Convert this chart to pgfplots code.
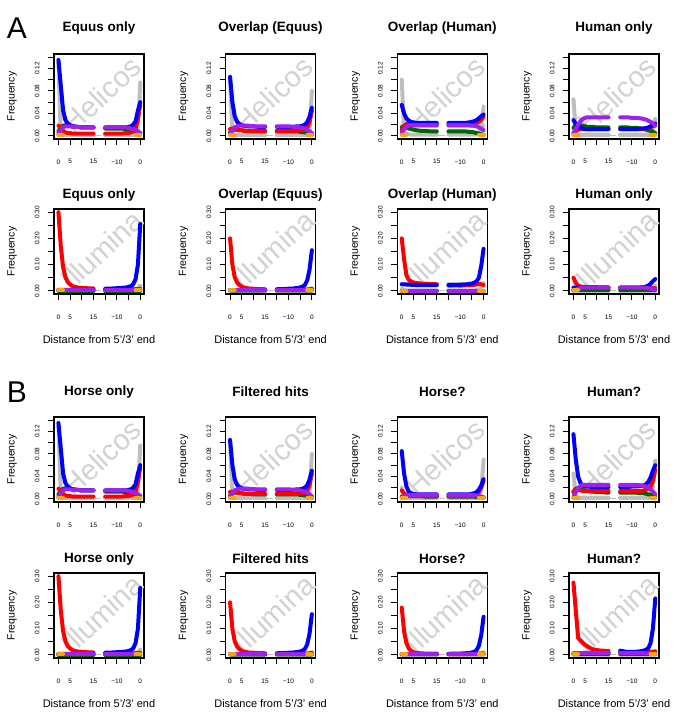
\documentclass[border=0pt]{standalone}
\usepackage{fontspec}
\setmainfont{Liberation Sans}
\usepackage{pgfplots}
\usepackage{pgfplotstable}
\pgfplotsset{compat=1.18}
\definecolor{Rblue}{RGB}{0,0,255}
\definecolor{Rred}{RGB}{255,0,0}
\definecolor{Rgreen}{RGB}{0,100,0}
\definecolor{Rpurple}{RGB}{160,32,240}
\definecolor{Rorange}{RGB}{255,165,0}
\definecolor{Rgrey}{RGB}{190,190,190}
\definecolor{wmcol}{RGB}{210,210,210}

% columns: u blue red green purple grey grey2 orange
\pgfplotstableread{
u b r g p k h o
0 .135 .018 .008 .004 .130 .001 .002
1 .090 .016 .014 .010 .004 .001 .002
2 .045 .009 .018 .015 .002 .001 .002
3 .028 .006 .019 .017 .002 .001 nan
4 .022 .005 .019 .017 .002 .001 nan
5 .019 .005 .018 .017 .002 .001 nan
6 .017 .004 .017 .016 .002 .001 nan
8 .016 .004 .016 .016 .002 .001 nan
10 .015 .004 .015 .015 .002 .001 nan
12 .015 .004 .015 .015 .002 .001 nan
15 .015 .004 .015 .015 .002 .001 nan
17.5 nan nan nan nan nan nan nan
20 .015 .004 .013 .015 .002 .001 nan
23 .015 .004 .013 .015 .002 .001 nan
25 .015 .004 .013 .015 .002 .001 nan
27 .015 .004 .013 .015 .002 .001 nan
29 .015 .005 .012 .015 .002 .001 nan
30 .016 .005 .012 .014 .002 .001 nan
31 .017 .006 .011 .013 .002 .001 nan
32 .020 .008 .010 .012 .003 .001 nan
33 .026 .013 .009 .010 .004 .001 .002
34 .045 .030 .007 .008 .008 .001 .002
35 .060 .055 .005 .005 .095 .001 .002
}\HAa

\pgfplotstableread{
u b r g p k h o
0 .105 .012 .006 .003 .100 .001 .002
1 .060 .013 .010 .010 .004 .001 .002
2 .035 .012 .011 .015 .002 .001 .002
3 .025 .011 .011 .017 .002 .001 nan
4 .021 .010 .010 .018 .002 .001 nan
5 .019 .010 .010 .018 .002 .001 nan
6 .018 .009 .009 .018 .002 .001 nan
8 .017 .009 .009 .018 .002 .001 nan
10 .017 .009 .008 .017 .002 .001 nan
12 .016 .009 .008 .017 .002 .001 nan
15 .016 .009 .008 .017 .002 .001 nan
17.5 nan nan nan nan nan nan nan
20 .016 .009 .008 .017 .002 .001 nan
23 .016 .009 .008 .017 .002 .001 nan
25 .016 .009 .008 .017 .002 .001 nan
27 .016 .009 .008 .016 .002 .001 nan
29 .017 .009 .008 .016 .002 .001 nan
30 .017 .010 .007 .015 .002 .001 nan
31 .018 .010 .007 .014 .002 .001 nan
32 .020 .011 .006 .013 .003 .001 nan
33 .024 .014 .005 .011 .004 .001 .002
34 .034 .024 .004 .008 .008 .001 .002
35 .050 .045 .002 .005 .080 .001 .002
}\HAb

\pgfplotstableread{
u b r g p k h o
0 .055 .010 .015 .005 .100 .017 .002
1 .040 .018 .017 .012 .010 .017 .002
2 .031 .021 .015 .016 .004 .017 .002
3 .027 .021 .013 .018 .003 .017 nan
4 .025 .021 .012 .019 .002 .017 nan
5 .024 .020 .011 .019 .002 .017 nan
6 .023 .020 .010 .019 .002 .017 nan
8 .023 .020 .009 .019 .002 .017 nan
10 .023 .020 .009 .019 .002 .017 nan
12 .023 .020 .008 .019 .002 .017 nan
15 .023 .020 .008 .019 .002 .017 nan
17.5 nan nan nan nan nan nan nan
20 .023 .020 .008 .019 .002 .017 nan
23 .023 .020 .008 .019 .002 .017 nan
25 .023 .020 .008 .019 .002 .017 nan
27 .023 .020 .008 .019 .002 .017 nan
29 .024 .021 .007 .019 .002 .017 nan
30 .025 .021 .007 .018 .002 .017 nan
31 .026 .022 .006 .018 .002 .017 nan
32 .028 .023 .005 .017 .003 .017 nan
33 .031 .025 .004 .015 .006 .017 .002
34 .035 .029 .003 .013 .015 .017 .002
35 .038 .034 .002 .010 .052 .017 .002
}\HAc

\pgfplotstableread{
u b r g p k h o
0 .028 .005 .014 .004 .065 .001 .002
1 .021 .009 .019 .012 .008 .001 .002
2 .017 .011 .020 .020 .003 .001 .002
3 .014 .012 .019 .026 .002 .001 nan
4 .013 .012 .018 .030 .002 .001 nan
5 .012 .012 .017 .032 .002 .001 nan
6 .012 .012 .016 .033 .002 .001 nan
8 .012 .012 .016 .033 .002 .001 nan
10 .012 .012 .015 .033 .002 .001 nan
12 .012 .012 .015 .033 .002 .001 nan
15 .012 .012 .015 .033 .002 .001 nan
17.5 nan nan nan nan nan nan nan
20 .012 .012 .015 .033 .002 .001 nan
23 .012 .012 .015 .033 .002 .001 nan
25 .012 .012 .014 .032 .002 .001 nan
27 .012 .012 .014 .032 .002 .001 nan
29 .013 .012 .013 .031 .002 .001 nan
30 .013 .013 .012 .030 .002 .001 nan
31 .014 .013 .011 .029 .002 .001 nan
32 .015 .014 .010 .027 .003 .001 nan
33 .017 .015 .009 .025 .005 .001 .002
34 .019 .017 .007 .022 .010 .001 .002
35 .022 .020 .005 .018 .030 .001 .002
}\HAd

\pgfplotstableread{
u b r g p k h o
0 .085 .015 .004 .002 .020 .001 .002
1 .045 .010 .005 .005 .003 .001 .002
2 .022 .007 .005 .007 .002 .001 .002
3 .013 .006 .005 .007 .002 .001 nan
4 .010 .005 .005 .007 .002 .001 nan
5 .009 .005 .005 .007 .002 .001 nan
6 .008 .005 .005 .007 .002 .001 nan
8 .008 .005 .005 .007 .002 .001 nan
10 .008 .005 .004 .007 .002 .001 nan
12 .008 .005 .004 .007 .002 .001 nan
15 .008 .005 .004 .007 .002 .001 nan
17.5 nan nan nan nan nan nan nan
20 .008 .005 .004 .007 .002 .001 nan
23 .008 .005 .004 .007 .002 .001 nan
25 .008 .005 .004 .007 .002 .001 nan
27 .008 .005 .004 .007 .002 .001 nan
29 .008 .005 .004 .007 .002 .001 nan
30 .009 .005 .004 .007 .002 .001 nan
31 .010 .006 .004 .006 .002 .001 nan
32 .012 .008 .003 .006 .003 .001 nan
33 .016 .012 .003 .005 .006 .001 .002
34 .024 .020 .002 .004 .012 .001 .002
35 .035 .032 .002 .003 .070 .001 .002
}\HBc

\pgfplotstableread{
u b r g p k h o
0 .115 .013 .012 .003 .045 .001 .002
1 .070 .017 .018 .012 .006 .001 .002
2 .040 .016 .019 .019 .003 .001 .002
3 .028 .015 .018 .023 .002 .001 nan
4 .024 .014 .016 .025 .002 .001 nan
5 .022 .014 .015 .025 .002 .001 nan
6 .022 .014 .014 .025 .002 .001 nan
8 .021 .014 .013 .025 .002 .001 nan
10 .021 .014 .012 .025 .002 .001 nan
12 .021 .014 .012 .025 .002 .001 nan
15 .021 .014 .011 .025 .002 .001 nan
17.5 nan nan nan nan nan nan nan
20 .021 .014 .011 .025 .002 .001 nan
23 .021 .014 .011 .025 .002 .001 nan
25 .022 .014 .011 .025 .002 .001 nan
27 .022 .014 .011 .025 .002 .001 nan
29 .023 .014 .010 .024 .002 .001 nan
30 .024 .015 .010 .023 .002 .001 nan
31 .026 .016 .009 .022 .002 .001 nan
32 .030 .018 .008 .020 .003 .001 nan
33 .038 .022 .007 .017 .008 .001 .002
34 .050 .032 .005 .013 .020 .001 .002
35 .060 .052 .003 .008 .068 .001 .002
}\HBd

\pgfplotstableread{
u b r g p k h o
0 .004 .300 .001 .003 .004 .001 .003
1 .004 .170 .001 .003 .002 .001 .003
2 .004 .090 .001 .003 .002 .001 .003
3 .004 .052 .001 .003 .002 .001 nan
4 .004 .033 .001 .003 .002 .001 nan
5 .004 .024 .001 .003 .002 .001 nan
6 .004 .018 .001 .003 .002 .001 nan
8 .004 .013 .001 .003 .002 .001 nan
10 .004 .011 .001 .003 .002 .001 nan
12 .004 .010 .001 .003 .002 .001 nan
15 .004 .009 .001 .003 .002 .001 nan
17.5 nan nan nan nan nan nan nan
20 .008 .005 .001 .003 .002 .001 nan
23 .009 .005 .001 .003 .002 .001 nan
25 .010 .005 .001 .003 .002 .001 nan
27 .011 .005 .001 .003 .002 .001 nan
29 .013 .005 .001 .003 .002 .001 nan
30 .015 .005 .001 .003 .002 .001 nan
31 .018 .006 .001 .003 .002 .001 nan
32 .025 .006 .001 .003 .003 .001 nan
33 .045 .007 .001 .003 .004 .001 .003
34 .100 .007 .001 .003 .010 .001 .003
35 .255 .008 .001 .003 .020 .001 .003
}\IAa

\pgfplotstableread{
u b r g p k h o
0 .003 .200 .003 .003 .003 .001 .002
1 .003 .100 .002 .003 .002 .001 .002
2 .003 .052 .002 .003 .002 .001 .002
3 .003 .032 .002 .003 .002 .001 nan
4 .003 .022 .002 .003 .002 .001 nan
5 .003 .016 .002 .003 .002 .001 nan
6 .003 .012 .002 .003 .002 .001 nan
8 .003 .009 .002 .003 .002 .001 nan
10 .003 .008 .002 .003 .002 .001 nan
12 .003 .007 .002 .003 .002 .001 nan
15 .003 .006 .002 .003 .002 .001 nan
17.5 nan nan nan nan nan nan nan
20 .006 .004 .002 .003 .002 .001 nan
23 .007 .004 .002 .003 .002 .001 nan
25 .008 .004 .002 .003 .002 .001 nan
27 .009 .004 .002 .003 .002 .001 nan
29 .011 .004 .002 .003 .002 .001 nan
30 .013 .005 .002 .003 .002 .001 nan
31 .016 .005 .002 .003 .002 .001 nan
32 .022 .005 .002 .003 .003 .001 nan
33 .040 .006 .002 .003 .004 .001 .002
34 .080 .006 .002 .003 .006 .001 .002
35 .155 .008 .002 .003 .010 .001 .002
}\IAb

\pgfplotstableread{
u b r g p k h o
0 .025 .200 .001 .001 .008 .028 .001
1 .025 .120 .001 .001 .003 .028 .001
2 .024 .060 .001 .001 .002 .028 .001
3 .024 .042 .001 .001 .002 .028 nan
4 .023 .036 .001 .001 .002 .028 nan
5 .023 .032 .001 .001 .002 .028 nan
6 .023 .030 .001 .001 .002 .028 nan
8 .022 .028 .001 .001 .002 .028 nan
10 .022 .027 .001 .001 .002 .028 nan
12 .022 .026 .001 .001 .002 .028 nan
15 .022 .025 .001 .001 .002 .028 nan
17.5 nan nan nan nan nan nan nan
20 .022 .020 .001 .001 .002 .028 nan
23 .022 .021 .001 .001 .002 .028 nan
25 .023 .020 .001 .001 .002 .028 nan
27 .024 .021 .001 .001 .002 .028 nan
29 .026 .021 .001 .001 .002 .028 nan
30 .028 .022 .001 .001 .002 .028 nan
31 .031 .023 .001 .001 .002 .028 nan
32 .036 .024 .001 .001 .003 .028 nan
33 .050 .026 .001 .001 .005 .028 .001
34 .095 .025 .001 .001 .012 .028 .001
35 .160 .022 .001 .001 .030 .028 .001
}\IAc

\pgfplotstableread{
u b r g p k h o
0 .012 .050 .004 .003 .010 .001 .004
1 .012 .030 .004 .004 .003 .001 .004
2 .012 .020 .004 .008 .002 .001 .004
3 .012 .017 .004 .011 .002 .001 nan
4 .012 .015 .004 .012 .002 .001 nan
5 .012 .015 .004 .012 .002 .001 nan
6 .012 .014 .004 .012 .002 .001 nan
8 .012 .014 .004 .012 .002 .001 nan
10 .012 .014 .004 .012 .002 .001 nan
12 .012 .013 .004 .012 .002 .001 nan
15 .012 .013 .004 .012 .002 .001 nan
17.5 nan nan nan nan nan nan nan
20 .012 .012 .004 .012 .002 .001 nan
23 .012 .012 .004 .012 .002 .001 nan
25 .012 .012 .004 .012 .002 .001 nan
27 .012 .012 .004 .012 .002 .001 nan
29 .013 .012 .004 .012 .002 .001 nan
30 .014 .012 .004 .012 .002 .001 nan
31 .016 .012 .004 .011 .002 .001 nan
32 .020 .012 .004 .010 .003 .001 nan
33 .027 .011 .004 .008 .005 .001 nan
34 .037 .010 .004 .006 .010 .001 nan
35 .045 .010 .004 .005 .020 .001 nan
}\IAd

\pgfplotstableread{
u b r g p k h o
0 .003 .180 .002 .003 .003 .001 .002
1 .003 .090 .002 .003 .002 .001 .002
2 .003 .045 .002 .003 .002 .001 .002
3 .003 .025 .002 .003 .002 .001 nan
4 .003 .015 .002 .003 .002 .001 nan
5 .003 .010 .002 .003 .002 .001 nan
6 .003 .008 .002 .003 .002 .001 nan
8 .003 .006 .002 .003 .002 .001 nan
10 .003 .005 .002 .003 .002 .001 nan
12 .003 .005 .002 .003 .002 .001 nan
15 .003 .005 .002 .003 .002 .001 nan
17.5 nan nan nan nan nan nan nan
20 .004 .003 .002 .003 .002 .001 nan
23 .005 .003 .002 .003 .002 .001 nan
25 .005 .003 .002 .003 .002 .001 nan
27 .006 .003 .002 .003 .002 .001 nan
29 .007 .003 .002 .003 .002 .001 nan
30 .009 .004 .002 .003 .002 .001 nan
31 .012 .004 .002 .003 .002 .001 nan
32 .018 .004 .002 .003 .003 .001 nan
33 .035 .005 .002 .003 .004 .001 .002
34 .075 .005 .002 .003 .006 .001 .002
35 .145 .006 .002 .003 .010 .001 .002
}\IBc

\pgfplotstableread{
u b r g p k h o
0 .006 .275 .003 .003 .005 .001 .002
1 .006 .170 .003 .004 .002 .001 .002
2 .006 .065 .003 .006 .002 .001 .002
3 .006 .055 .003 .007 .002 .001 nan
4 .007 .046 .003 .007 .002 .001 nan
5 .008 .038 .003 .007 .002 .001 nan
6 .008 .032 .003 .007 .002 .001 nan
8 .008 .022 .003 .007 .002 .001 nan
10 .008 .018 .003 .007 .002 .001 nan
12 .008 .016 .003 .007 .002 .001 nan
15 .008 .015 .003 .007 .002 .001 nan
17.5 nan nan nan nan nan nan nan
20 .016 .010 .003 .007 .002 .001 nan
23 .011 .010 .003 .007 .002 .001 nan
25 .011 .010 .003 .007 .002 .001 nan
27 .012 .010 .003 .007 .002 .001 nan
29 .014 .010 .003 .007 .002 .001 nan
30 .016 .010 .003 .007 .002 .001 nan
31 .019 .011 .003 .006 .002 .001 nan
32 .025 .011 .003 .006 .003 .001 nan
33 .045 .012 .003 .005 .005 .001 .002
34 .100 .012 .003 .004 .008 .001 .002
35 .215 .013 .003 .004 .015 .001 .002
}\IBd

\tikzset{wmark/.style={rotate=43, text=wmcol, font=\fontsize{29}{29}\selectfont},
  ptitle/.style={anchor=center, font=\bfseries\fontsize{13.5}{14}\selectfont}}

\pgfplotsset{
  panel/.style={
    scale only axis, width=90pt, height=85pt,
    xmin=-1.9, xmax=36.6,
    xtick={0,5,10,15,20,25,30,35},
    xticklabels={0,5,,15,,−10,,0},
    xtick pos=bottom, ytick pos=left,
    tick align=outside, major tick length=6pt,
    every tick/.style={black, line width=0.9pt},
    axis line style={line width=1.5pt},
    tick label style={font=\fontsize{6.5}{6.5}\selectfont},
    yticklabel style={rotate=90, anchor=south},
    yticklabel shift=5pt,
    xticklabel style={yshift=-11pt},
    ylabel={Frequency},
    ylabel style={at={([xshift=-42pt]axis description cs:0,0.5)}, anchor=center, font=\fontsize{10.5}{11}\selectfont},
    xlabel style={at={([yshift=-46pt]axis description cs:0.5,0)}, anchor=center, font=\fontsize{11}{12}\selectfont},
    unbounded coords=jump,
    every axis plot/.append style={line width=4pt, line cap=round, line join=round, mark=none},
  },
  hel/.style={ymin=-0.0056, ymax=0.1456,
    ytick={0,0.02,0.04,0.06,0.08,0.10,0.12,0.14},
    yticklabels={0.00,,0.04,,0.08,,0.12,}},
  ill/.style={ymin=-0.012, ymax=0.312,
    ytick={0,0.05,0.10,0.15,0.20,0.25,0.30},
    yticklabels={0.00,,0.10,,0.20,,0.30},
    xlabel={Distance from 5'/3' end}},
}

% #1 left, #2 top, #3 title, #4 table, #5 watermark, #6 style, #7 title offset above box
\newcommand\panel[7]{%
\begin{axis}[panel, #6, at={(#1pt,{726pt-#2pt})}, anchor=north west]
  \node[wmark] at (rel axis cs:0.53,0.52) {#5};
  \addplot[Rgrey, line width=1.5pt, dash pattern=on 7pt off 5pt, line cap=butt] coordinates {(0,0.0004) (35,0.0004)};
  \addplot[Rgrey] table[x=u, y=h] {#4};
  \addplot[Rgrey] table[x=u, y=k] {#4};
  \addplot[Rgreen] table[x=u, y=g] {#4};
  \addplot[Rred] table[x=u, y=r] {#4};
  \addplot[Rblue] table[x=u, y=b] {#4};
  \addplot[Rpurple] table[x=u, y=p] {#4};
  \addplot[Rorange] table[x=u, y=o] {#4};
\end{axis}
\node[ptitle] at ({#1pt+45pt},{726pt-#2pt+#7pt}) {#3};}

\begin{document}
\begin{tikzpicture}
\path[use as bounding box] (0,0) rectangle (685pt,726pt);
\node[font=\fontsize{30}{30}\selectfont] at (17pt,{726pt-28pt}) {A};
\node[font=\fontsize{30}{30}\selectfont] at (17pt,{726pt-392pt}) {B};

\panel{54}{54}{Equus only}{\HAa}{Helicos}{hel}{26}
\panel{225.6}{54}{Overlap (Equus)}{\HAb}{Helicos}{hel}{26}
\panel{397.3}{54}{Overlap (Human)}{\HAc}{Helicos}{hel}{26}
\panel{569}{54}{Human only}{\HAd}{Helicos}{hel}{26}

\panel{54}{209}{Equus only}{\IAa}{Illumina}{ill}{14}
\panel{225.6}{209}{Overlap (Equus)}{\IAb}{Illumina}{ill}{14}
\panel{397.3}{209}{Overlap (Human)}{\IAc}{Illumina}{ill}{14}
\panel{569}{209}{Human only}{\IAd}{Illumina}{ill}{14}

\panel{54}{417}{Horse only}{\HAa}{Helicos}{hel}{25}
\panel{225.6}{417}{Filtered hits}{\HAb}{Helicos}{hel}{25}
\panel{397.3}{417}{Horse?}{\HBc}{Helicos}{hel}{25}
\panel{569}{417}{Human?}{\HBd}{Helicos}{hel}{25}

\panel{54}{573}{Horse only}{\IAa}{Illumina}{ill}{14}
\panel{225.6}{573}{Filtered hits}{\IAb}{Illumina}{ill}{14}
\panel{397.3}{573}{Horse?}{\IBc}{Illumina}{ill}{14}
\panel{569}{573}{Human?}{\IBd}{Illumina}{ill}{14}
\end{tikzpicture}
\end{document}
